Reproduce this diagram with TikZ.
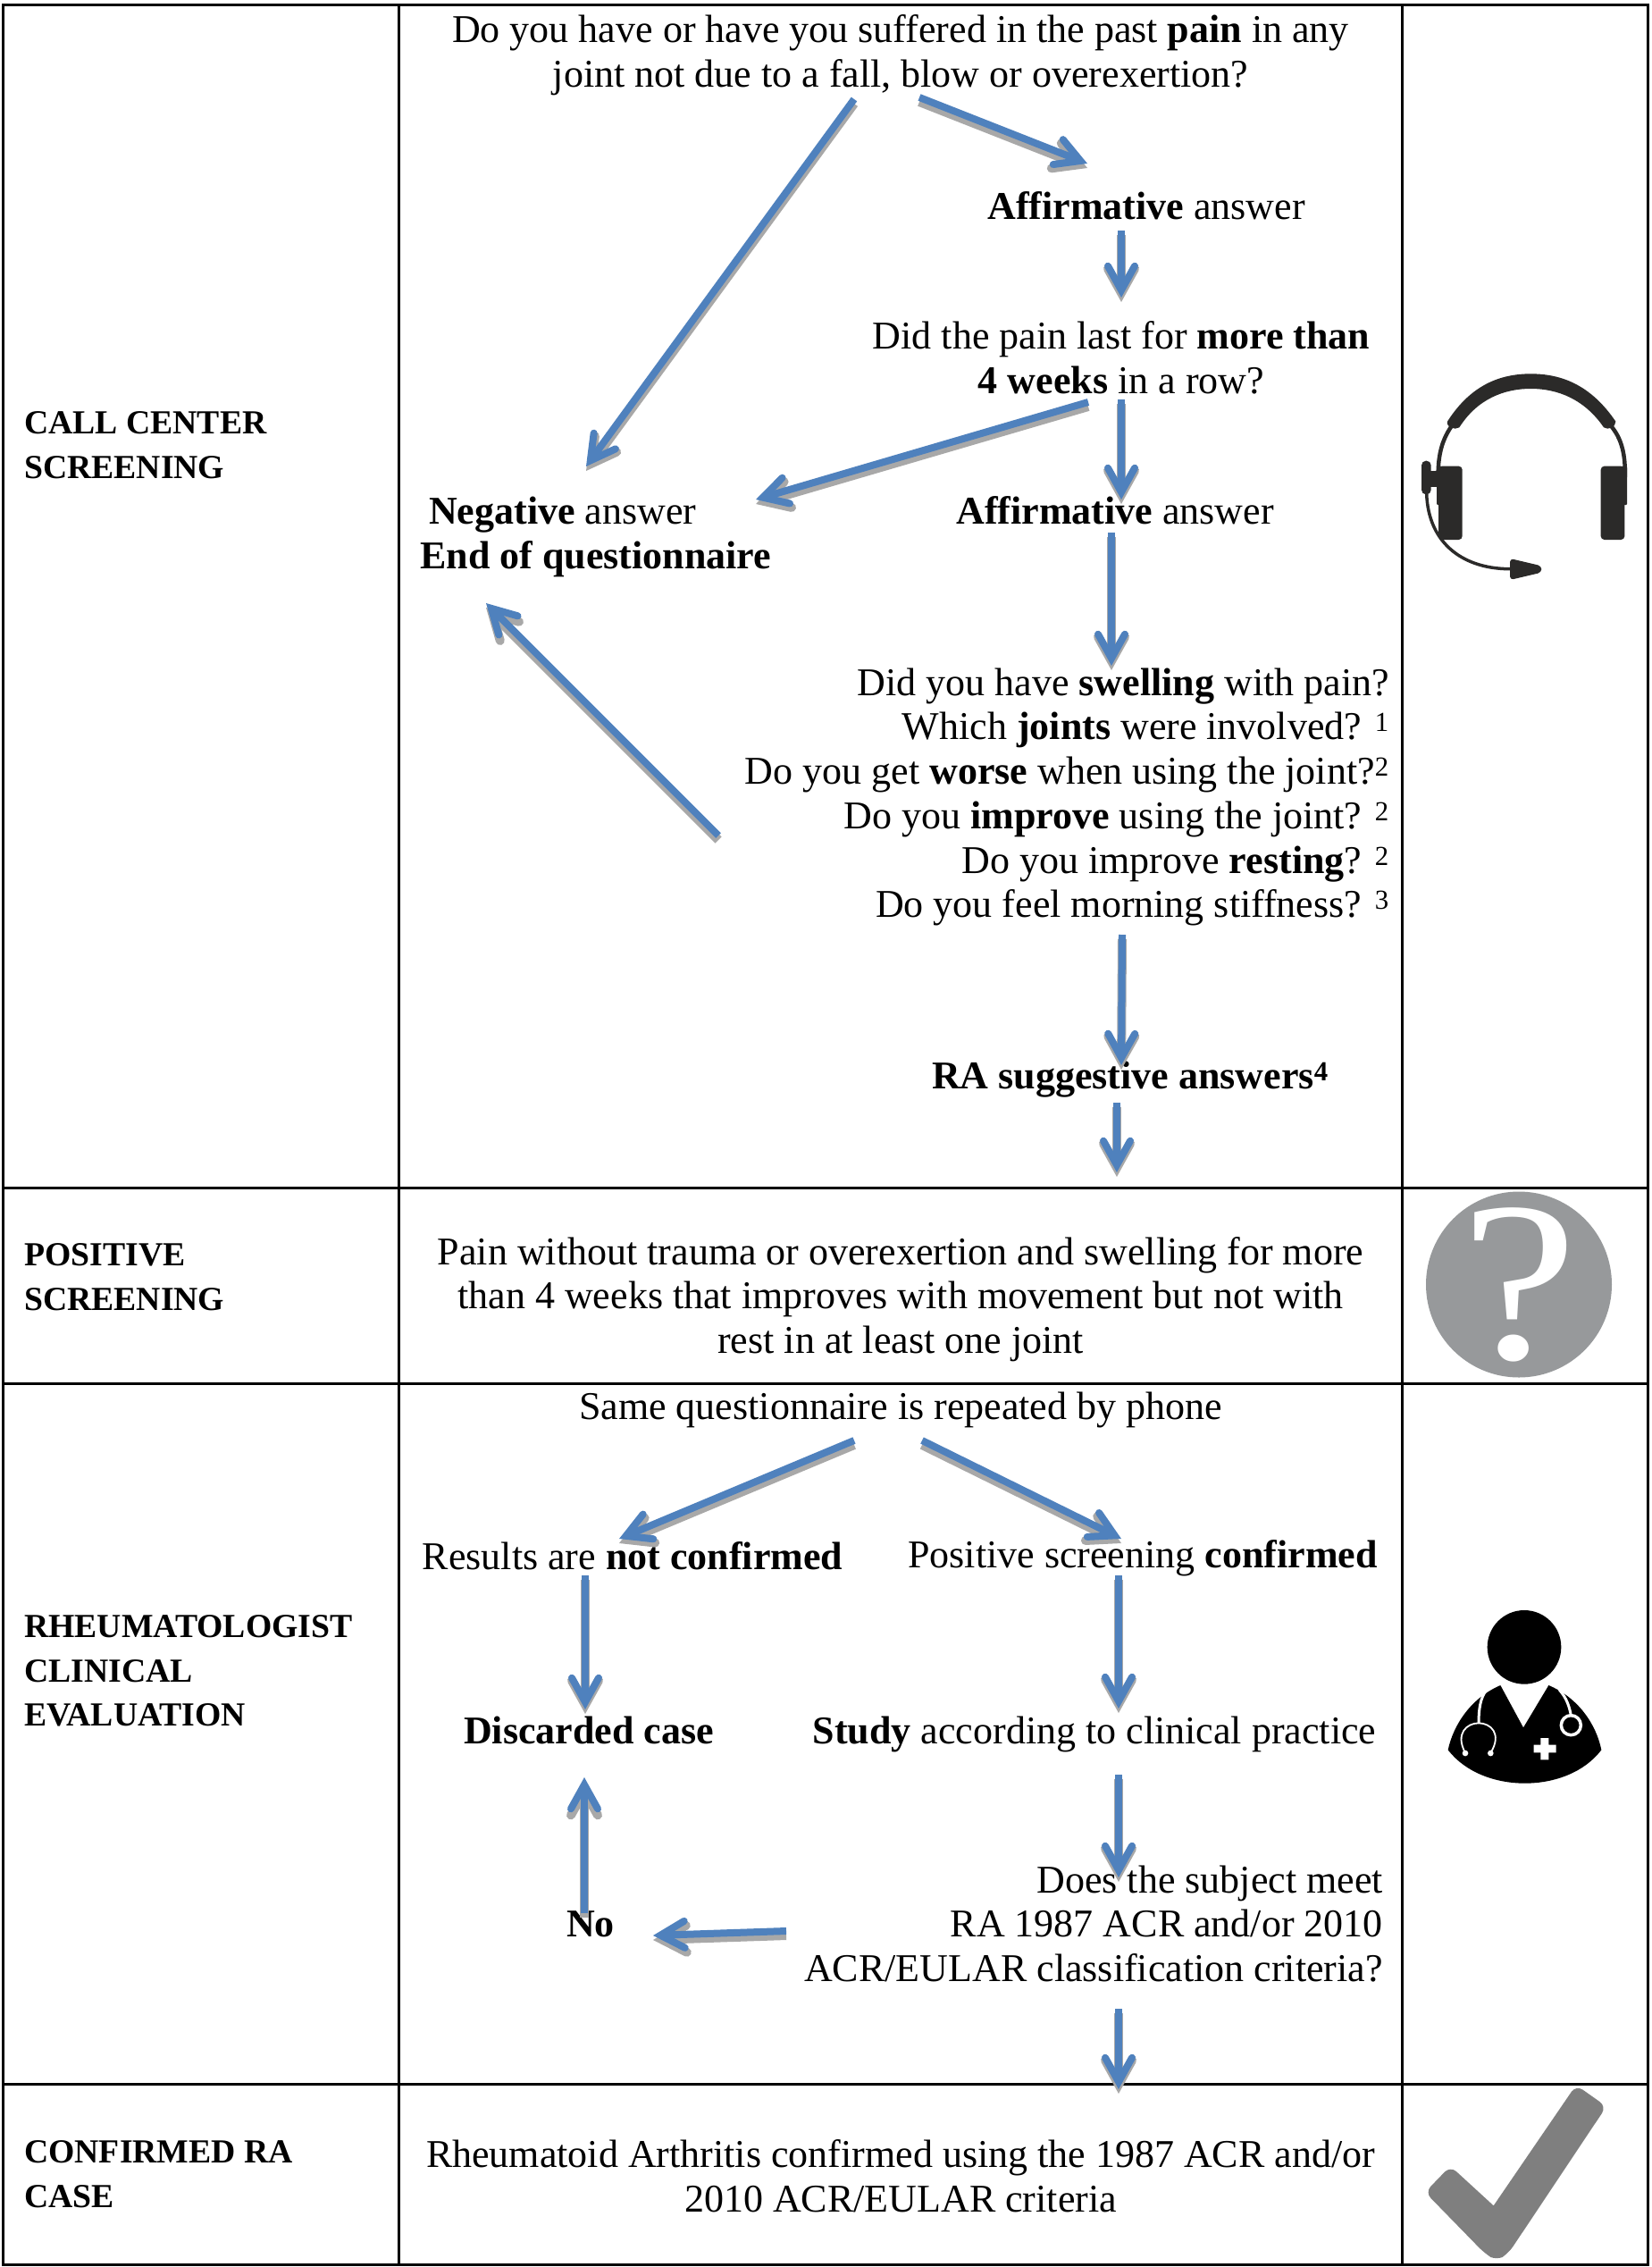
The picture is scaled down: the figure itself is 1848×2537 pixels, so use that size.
\documentclass[tikz,border=0pt]{standalone}
\usepackage{fontspec}
\setmainfont{Liberation Serif}
\usetikzlibrary{arrows.meta}
\definecolor{flowblue}{HTML}{4F81BD}
\definecolor{flowshade}{HTML}{A8A8A8}
\definecolor{headsetgray}{HTML}{2B2A29}
\definecolor{markgray}{HTML}{97999B}
\definecolor{checkgray}{HTML}{7F7F7F}
\tikzset{
	x=1pt,y=-1pt,
	txt/.style={inner sep=0pt,align=center,font=\fontsize{44}{49.7}\selectfont},
	txtright/.style={txt,align=right,anchor=east},
	rowlabel/.style={inner sep=0pt,align=left,anchor=west,font=\fontsize{37.7}{49.7}\selectfont\bfseries},
	flow/.style={-{Straight Barb[length=27pt,width=30pt,line cap=round]},draw=flowblue,line width=8pt,
		preaction={draw=flowshade,line width=10pt,transform canvas={shift={(0,5)}}}},
	rule/.style={line width=3pt,line cap=rect}
}
\begin{document}
\begin{tikzpicture}
	\useasboundingbox (0,0) rectangle (1848,2537);
	\fill[white] (0,0) rectangle (1848,2537);
	\draw[rule] (3,6) rectangle (1844,2534);
	\draw[rule] (3,1329) -- (1844,1329);
	\draw[rule] (3,1548) -- (1844,1548);
	\draw[rule] (3,2332) -- (1844,2332);
	\draw[rule] (446,6) -- (446,2534);
	\draw[rule] (1569,6) -- (1569,2534);
	\node[rowlabel] (screening) at (27,498) {CALL CENTER\\SCREENING};
	\node[rowlabel] (positive) at (27,1429) {POSITIVE\\SCREENING};
	\node[rowlabel] (clinical) at (27,1870) {RHEUMATOLOGIST\\CLINICAL\\EVALUATION};
	\node[rowlabel] (confirmed) at (27,2433) {CONFIRMED RA\\CASE};
	\node[txt] (painq) at (1008,62) {Do you have or have you suffered in the past \textbf{pain} in any\\joint not due to a fall, blow or overexertion?};
	\node[txt] (yesone) at (1283,230) {\textbf{Affirmative} answer};
	\node[txt] (weeksq) at (1255,400) {Did the pain last for \textbf{more than}\\\textbf{4 weeks} in a row?};
	\node[txt] (yestwo) at (1248,571) {\textbf{Affirmative} answer};
	\node[txt,align=left,anchor=west] (neg) at (470,601) {\hspace*{10pt}\textbf{Negative} answer\\\textbf{End of questionnaire}};
	\node[txtright] (swellq) at (1555,892) {Did you have \textbf{swelling} with pain?\\Which \textbf{joints} were involved? \textsuperscript{1}\\Do you get \textbf{worse} when using the joint?\textsuperscript{2}\\Do you \textbf{improve} using the joint? \textsuperscript{2}\\Do you improve \textbf{resting}? \textsuperscript{2}\\Do you feel morning stiffness? \textsuperscript{3}};
	\node[txt] (suggest) at (1265,1208) {\textbf{RA suggestive answers\textsuperscript{4}}};
	\node[txt] (posdef) at (1008,1454) {Pain without trauma or overexertion and swelling for more\\than 4 weeks that improves with movement but not with\\rest in at least one joint};
	\node[txt] (phone) at (1008,1578) {Same questionnaire is repeated by phone};
	\node[txt] (notconf) at (708,1741) {Results are \textbf{not confirmed}};
	\node[txt] (posconf) at (1279,1744) {Positive screening \textbf{confirmed}};
	\node[txt] (discard) at (659,1936) {\textbf{Discarded case}};
	\node[txt] (study) at (1225,1941) {\textbf{Study} according to clinical practice};
	\node[txtright] (meet) at (1548,2153) {Does the subject meet\\RA 1987 ACR and/or 2010\\ACR/EULAR classification criteria?};
	\node[txt] (no) at (661,2153) {\textbf{No}};
	\node[txt] (radef) at (1008,2435) {Rheumatoid Arthritis confirmed using the 1987 ACR and/or\\2010 ACR/EULAR criteria};
	\draw[flow] ([shift={(-52,49)}]painq.center) -- ([shift={(186,-79)}]neg.west);
	\draw[flow] ([shift={(21,47)}]painq.center) -- ([shift={(-66,-47)}]yesone.center);
	\draw[flow] ([shift={(-28,28)}]yesone.center) -- ([shift={(0,-67)}]weeksq.center);
	\draw[flow] ([shift={(0,47)}]weeksq.center) -- ([shift={(7,-12)}]yestwo.center);
	\draw[flow] ([shift={(-37,50)}]weeksq.center) -- ([shift={(376,-42)}]neg.west);
	\draw[flow] ([shift={(-4,25)}]yestwo.center) -- ([shift={(-4,174)}]yestwo.center);
	\draw[flow] ([shift={(-751,43)}]swellq.east) -- ([shift={(74,74)}]neg.west);
	\draw[flow] ([shift={(-299,154)}]swellq.east) -- ([shift={(-10,-16)}]suggest.center);
	\draw[flow] ([shift={(-15,26)}]suggest.center) -- ([shift={(-15,104)}]suggest.center);
	\draw[flow] ([shift={(-52,34)}]phone.center) -- ([shift={(-15,-19)}]notconf.center);
	\draw[flow] ([shift={(24,34)}]phone.center) -- ([shift={(-24,-22)}]posconf.center);
	\draw[flow] ([shift={(-53,22)}]notconf.center) -- ([shift={(-4,-23)}]discard.center);
	\draw[flow] ([shift={(-27,19)}]posconf.center) -- ([shift={(27,-29)}]study.center);
	\draw[flow] ([shift={(27,45)}]study.center) -- ([shift={(-296,-52)}]meet.east);
	\draw[flow] ([shift={(-668,8)}]meet.east) -- ([shift={(70,13)}]no.center);
	\draw[flow] ([shift={(-7,-12)}]no.center) -- ([shift={(-7,-164)}]no.center);
	\draw[flow] ([shift={(-296,95)}]meet.east) -- ([shift={(-296,185)}]meet.east);
	\begin{scope}[shift={(1500,350)},scale=1/3]
		\draw[headsetgray,line width=4.5pt] (332,600) .. controls (320,480) and (345,420) .. (378,375);
		\draw[headsetgray,line width=4.5pt] (953,600) .. controls (965,480) and (945,420) .. (905,375);
		\fill[headsetgray] (360,365) .. controls (440,240) and (540,205) .. (640,205) .. controls (740,205) and (840,240) .. (925,365) .. controls (925,385) and (900,395) .. (885,385) .. controls (820,290) and (730,255) .. (640,255) .. controls (550,255) and (460,290) .. (400,385) .. controls (385,395) and (355,385) .. (360,365) -- cycle;
		\fill[headsetgray,rounded corners=4pt] (330,515) rectangle (410,762);
		\fill[headsetgray,rounded corners=4pt] (875,515) rectangle (955,762);
		\fill[headsetgray,rounded corners=1pt] (324,515) rectangle (340,645);
		\fill[headsetgray,rounded corners=1pt] (945,515) rectangle (963,645);
		\fill[headsetgray,rounded corners=5pt] (273,497) rectangle (305,610);
		\fill[headsetgray] (300,530) rectangle (326,585);
		\draw[headsetgray,line width=3.5pt] (290,605) .. controls (295,780) and (420,862) .. (575,860);
		\fill[headsetgray,rounded corners=4pt] (570,825) -- (676,850) -- (676,872) -- (570,897) -- cycle;
	\end{scope}
	\fill[markgray] (1700,1437.5) circle (104);
	\node[inner sep=0pt,text=white,xscale=1.15,font=\fontsize{255}{255}\selectfont] (qmark) at (1701,1438) {?};
	\begin{scope}[shift={(1560,1760)},scale=1/3]
		\fill[black] (438,250) circle (124);
		\fill[black] (358,378) -- (435,520) -- (520,378) .. controls (620,420) and (680,510) .. (697,595) .. controls (640,670) and (540,707) .. (440,707) .. controls (340,707) and (240,670) .. (182,595) .. controls (200,510) and (260,420) .. (358,378) -- cycle;
		\draw[white,line width=3pt] (312,392) .. controls (290,420) and (285,460) .. (285,505);
		\draw[white,line width=1.8pt] (240,605) .. controls (205,540) and (245,505) .. (285,505) .. controls (325,505) and (365,540) .. (325,605);
		\fill[white] (240,606) circle (10) (325,606) circle (10);
		\draw[white,line width=3pt] (555,392) .. controls (580,420) and (590,450) .. (595,480);
		\draw[white,line width=3.5pt] (595,512) circle (33);
		\fill[white] (493,555) rectangle (520,628) (470,578) rectangle (545,604);
	\end{scope}
	\begin{scope}[shift={(1560,2300)},scale=1/3]
		\fill[checkgray] (335,505) [rounded corners=9pt] -- (612,100) -- (714,172) -- (385,665) -- (345,690) -- (305,665) -- (105,460) -- (190,372) [sharp corners] -- cycle;
	\end{scope}
\end{tikzpicture}
\end{document}
